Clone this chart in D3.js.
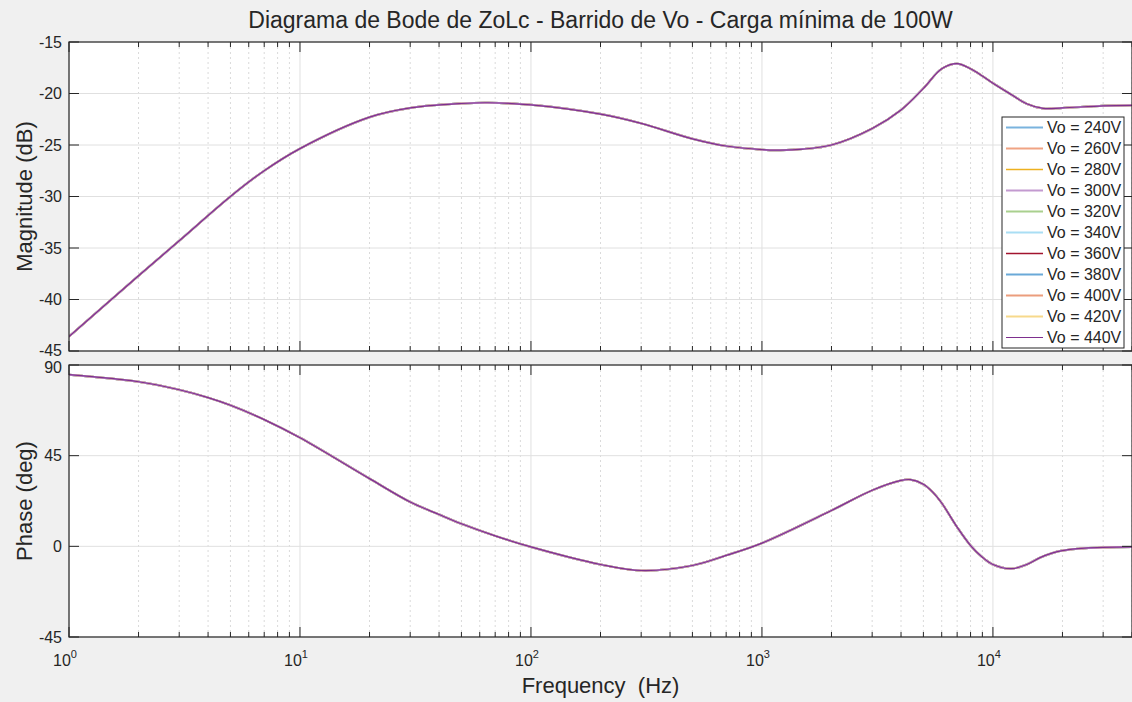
<!DOCTYPE html>
<html>
<head>
<meta charset="utf-8">
<script src="https://cdn.jsdelivr.net/npm/d3@7"></script>
<style>
  body { margin: 0; background: #f0f0f0; }
  text { font-family: "Liberation Sans", Arial, sans-serif; fill: #262626; }
</style>
</head>
<body>
<div class="bode"></div>
<script>
var width = 1132
var height = 702

// frequency points (Hz)
var freqMag = [1, 2, 3, 5, 7, 10, 20, 30, 50, 65, 100, 200, 300, 500, 700, 1000, 1200, 1500, 2000, 3000, 4000, 5000, 6000, 7000, 8000, 9000, 10000, 12000, 14000, 16500, 20000, 30000, 40000]
var magnitude = [-43.6, -37.7, -34.3, -30.0, -27.5, -25.35, -22.3, -21.4, -20.97, -20.9, -21.1, -22.0, -22.9, -24.4, -25.1, -25.45, -25.5, -25.4, -25.0, -23.4, -21.6, -19.5, -17.6, -17.1, -17.6, -18.3, -19.0, -20.1, -21.0, -21.45, -21.4, -21.2, -21.15]

var freqPh = [1, 2, 3, 4, 5, 7, 10, 20, 30, 40, 50, 70, 100, 200, 300, 500, 700, 1000, 2000, 3000, 4000, 4400, 5000, 5500, 6000, 7000, 8000, 9000, 10000, 12000, 14000, 16000, 18000, 20000, 25000, 40000]
var phase = [85.2, 81.7, 77.7, 73.8, 70.0, 62.9, 53.9, 33.6, 22.0, 15.8, 11.2, 5.2, -0.3, -9.0, -12.0, -9.5, -4.5, 1.6, 17.8, 27.8, 32.7, 33.1, 30.8, 26.8, 21.5, 9.5, 0.4, -5.4, -9.0, -11.1, -9.0, -5.6, -3.4, -2.1, -0.9, -0.3]

// all Vo sweeps overlap on the same curve
var series = ['Vo = 240V', 'Vo = 260V', 'Vo = 280V', 'Vo = 300V', 'Vo = 320V', 'Vo = 340V', 'Vo = 360V', 'Vo = 380V', 'Vo = 400V', 'Vo = 420V', 'Vo = 440V']
var colors = ['#7ab3de', '#f0a383', '#edb120', '#c39ad0', '#a9d08e', '#a9def4', '#a2142f', '#6aa9d8', '#eb9d7d', '#f7d98c', '#7e2f8e']
var widths = [2, 2, 1.5, 2, 2, 2, 1.5, 2, 2, 2, 1.2]
// drawing order, the purple ones end up on top like the original
var drawOrder = [0, 1, 2, 4, 5, 6, 7, 8, 9, 3, 10]

var magTicks = [-45, -40, -35, -30, -25, -20, -15]
var phTicks = [-45, 0, 45, 90]
var decades = [1, 10, 100, 1000, 10000]

var left = 69, right = 1132
var axisColor = '#262626'

var svg = d3.select('.bode')
  .append('svg')
  .attr('width', width)
  .attr('height', height)

var x = d3.scaleLog().domain([1, 40000]).range([left, right])

var yMag = d3.scaleLinear().domain([-45, -15]).range([351, 42])
var yPh = d3.scaleLinear().domain([-45, 90]).range([637, 365])

var minors = []
for (var d = 1; d < 40000; d *= 10) {
  for (var k = 2; k <= 9; k++) {
    if (d * k <= 40000) minors.push(d * k)
  }
}

// labels where the two panels meet are nudged apart
function labelShift(name, d) {
  if (name === 'mag' && d === -45) return -1
  if (name === 'ph' && d === 90) return 2.5
  return 0
}

function panel(y, ticks, freqs, vals, name) {
  var top = y.range()[1], bottom = y.range()[0]
  var g = svg.append('g')

  g.append('rect')
    .attr('x', left).attr('y', top)
    .attr('width', right - left).attr('height', bottom - top)
    .style('fill', '#fff')

  // grid
  g.selectAll('.minor').data(minors).enter().append('line')
    .attr('x1', d => x(d)).attr('x2', d => x(d))
    .attr('y1', top).attr('y2', bottom)
    .style('stroke', '#dadada').style('stroke-dasharray', '2,3')
  g.selectAll('.major').data(decades).enter().append('line')
    .attr('x1', d => x(d)).attr('x2', d => x(d))
    .attr('y1', top).attr('y2', bottom)
    .style('stroke', '#e0e0e0')
  g.selectAll('.hgrid').data(ticks).enter().append('line')
    .attr('x1', left).attr('x2', right)
    .attr('y1', d => y(d)).attr('y2', d => y(d))
    .style('stroke', '#e0e0e0')

  // curves
  g.append('clipPath').attr('id', 'clip' + name)
    .append('rect')
    .attr('x', left).attr('y', top)
    .attr('width', right - left).attr('height', bottom - top)

  var line = d3.line()
    .x(d => x(d[0]))
    .y(d => y(d[1]))
    .curve(d3.curveCatmullRom.alpha(0.5))
  var pts = freqs.map((f, i) => [f, vals[i]])

  g.selectAll('.curve').data(drawOrder).enter().append('path')
    .attr('d', line(pts))
    .attr('clip-path', 'url(#clip' + name + ')')
    .style('fill', 'none')
    .style('stroke', i => colors[i])
    .style('stroke-width', i => widths[i])

  // x ticks top and bottom
  ;[top, bottom].forEach(function(edge) {
    var dir = edge === top ? 1 : -1
    g.selectAll('.xt').data(decades).enter().append('line')
      .attr('x1', d => x(d)).attr('x2', d => x(d))
      .attr('y1', edge).attr('y2', d => edge + dir * 10)
      .style('stroke', axisColor)
    g.selectAll('.xm').data(minors).enter().append('line')
      .attr('x1', d => x(d)).attr('x2', d => x(d))
      .attr('y1', edge).attr('y2', d => edge + dir * 5)
      .style('stroke', axisColor)
  })

  // y ticks left and right
  g.selectAll('.yt').data(ticks).enter().append('line')
    .attr('x1', left).attr('x2', left + 10)
    .attr('y1', d => y(d)).attr('y2', d => y(d))
    .style('stroke', axisColor)
  g.selectAll('.yt2').data(ticks).enter().append('line')
    .attr('x1', right - 10).attr('x2', right)
    .attr('y1', d => y(d)).attr('y2', d => y(d))
    .style('stroke', axisColor)

  g.selectAll('.ylab').data(ticks).enter().append('text')
    .attr('x', left - 7)
    .attr('y', d => y(d) + 5.5 + labelShift(name, d))
    .attr('text-anchor', 'end')
    .style('font-size', '16px')
    .text(d => d)

  g.append('rect')
    .attr('x', left).attr('y', top)
    .attr('width', right - left).attr('height', bottom - top)
    .style('fill', 'none')
    .style('stroke', axisColor)
    .style('stroke-width', 1.2)

  return g
}

panel(yMag, magTicks, freqMag, magnitude, 'mag')
panel(yPh, phTicks, freqPh, phase, 'ph')

// x tick labels on the bottom panel
var xl = svg.selectAll('.xlab').data(decades).enter().append('text')
  .attr('x', d => x(d) - 4)
  .attr('y', 666)
  .attr('text-anchor', 'middle')
  .style('font-size', '16px')
xl.append('tspan').text('10')
xl.append('tspan').attr('dy', -8).style('font-size', '11px').text(d => Math.round(Math.log10(d)))

// titles
svg.append('text')
  .attr('x', (left + right) / 2).attr('y', 28)
  .attr('text-anchor', 'middle')
  .style('font-size', '23px')
  .text('Diagrama de Bode de ZoLc - Barrido de Vo - Carga mínima de 100W')

svg.append('text')
  .attr('transform', 'translate(32,' + (yMag(-30)) + ') rotate(-90)')
  .attr('text-anchor', 'middle')
  .style('font-size', '22px')
  .text('Magnitude (dB)')

svg.append('text')
  .attr('transform', 'translate(32,' + (yPh(22.5)) + ') rotate(-90)')
  .attr('text-anchor', 'middle')
  .style('font-size', '22px')
  .text('Phase (deg)')

svg.append('text')
  .attr('x', (left + right) / 2).attr('y', 693)
  .attr('text-anchor', 'middle')
  .style('font-size', '22px')
  .text('Frequency\u00a0\u00a0(Hz)')

// legend
var lg = svg.append('g')
lg.append('rect')
  .attr('x', 1002).attr('y', 117)
  .attr('width', 122).attr('height', 231)
  .style('fill', '#fff')
  .style('stroke', axisColor)

var item = lg.selectAll('.item').data(series).enter().append('g')
  .attr('transform', (d, i) => 'translate(0,' + (127.5 + i * 21) + ')')
item.append('line')
  .attr('x1', 1006).attr('x2', 1043)
  .style('stroke', (d, i) => colors[i])
  .style('stroke-width', (d, i) => widths[i])
item.append('text')
  .attr('x', 1047).attr('y', 5.5)
  .style('font-size', '16px')
  .text(d => d)
</script>
</body>
</html>
